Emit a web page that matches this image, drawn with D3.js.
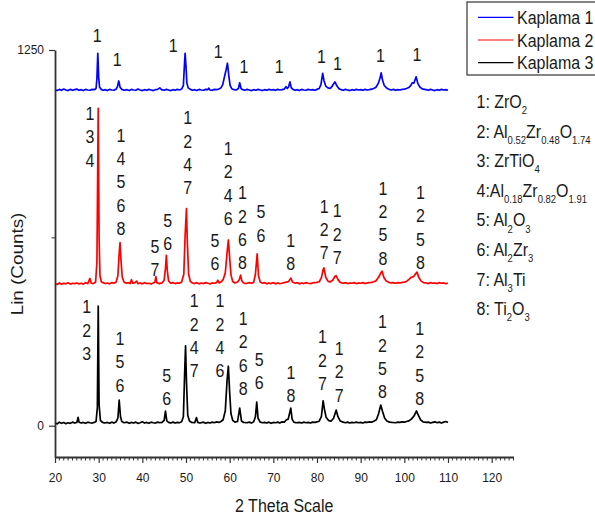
<!DOCTYPE html>
<html>
<head>
<meta charset="utf-8">
<script src="https://cdn.jsdelivr.net/npm/d3@7"></script>
<style>
  body { margin: 0; background: #fff; }
  svg { display: block; }
</style>
</head>
<body>
<div id="chart"></div>
<script>
// series names / colours / vertical offsets used by the stacked plot
const seriesNames = ["Kaplama 1", "Kaplama 2", "Kaplama 3"];
const seriesColors = ["#0000ff", "#ff0000", "#000000"];
const seriesOffsets = [1110, 464, 0];

// [2theta, counts]
const kaplama1 = [[20,8],[20.5,5],[21,9],[21.5,6],[22,10],[22.5,7],[23,5],[23.5,9],[24,6],[24.5,8],[25,10],[25.5,6],[26,8],[26.5,5],[27,9],[27.5,7],[28,6],[28.5,9],[29,8],[29.4,12],[29.6,45],[29.8,129],[30,50],[30.2,16],[30.6,9],[31,6],[31.5,8],[32,5],[32.5,9],[33,7],[33.5,6],[34,10],[34.3,18],[34.6,37],[34.9,16],[35.3,9],[35.8,6],[36.5,8],[37,5],[37.5,9],[38,7],[38.5,6],[39,10],[39.5,7],[40,5],[40.5,8],[41,6],[41.5,9],[42,7],[42.5,5],[43,8],[43.5,9],[44,14],[44.4,8],[45,6],[45.5,9],[46,7],[46.5,5],[47,8],[47.5,6],[48,9],[48.5,7],[49,10],[49.4,22],[49.6,80],[49.8,129],[50,85],[50.2,30],[50.5,14],[51,9],[51.5,6],[52,8],[52.5,5],[53,9],[53.5,7],[54,6],[54.5,9],[55,8],[55.2,13],[55.5,7],[56,6],[56.5,9],[57,8],[57.5,10],[58,14],[58.4,24],[58.8,50],[59.2,75],[59.5,96],[59.8,55],[60.1,22],[60.5,11],[61,8],[61.5,7],[62,12],[62.3,31],[62.6,12],[63,8],[63.5,6],[64,9],[64.5,7],[65,5],[65.5,8],[66,6],[66.5,9],[67,7],[67.5,5],[68,8],[68.5,6],[69,9],[69.5,7],[70,8],[70.5,6],[71,9],[71.5,7],[72,8],[72.5,10],[72.9,18],[73.2,12],[73.5,18],[73.8,34],[74.1,15],[74.5,9],[75,6],[75.5,8],[76,5],[76.5,9],[77,7],[77.5,6],[78,9],[78.5,7],[79,8],[79.5,6],[80,9],[80.5,12],[80.9,25],[81.3,62],[81.6,38],[82,20],[82.5,14],[83,12],[83.5,20],[84.1,34],[84.5,22],[85,12],[85.5,8],[86,6],[86.5,9],[87,7],[87.5,5],[88,8],[88.5,6],[89,9],[89.5,7],[90,8],[90.5,6],[91,9],[91.5,7],[92,8],[92.5,10],[93,12],[93.5,16],[94,28],[94.4,45],[94.7,64],[95,40],[95.4,22],[96,13],[96.5,9],[97,7],[97.5,9],[98,6],[98.5,8],[99,7],[99.5,9],[100,10],[100.5,12],[101,15],[101.5,22],[101.8,31],[102.2,30],[102.7,51],[103.1,28],[103.6,16],[104.2,10],[105,8],[105.5,6],[106,9],[106.5,7],[107,5],[107.5,8],[108,6],[108.5,9],[109,7],[109.5,8],[110,6]];

const kaplama2 = [[20,9],[20.5,6],[21,11],[21.5,7],[22,10],[22.5,8],[23,12],[23.5,7],[24,10],[24.5,9],[25,11],[25.5,8],[26,10],[26.5,7],[27,12],[27.5,9],[28,26],[28.3,10],[28.8,9],[29.3,14],[29.6,80],[29.9,592],[30.1,160],[30.3,35],[30.6,15],[31,12],[31.5,9],[32,11],[32.5,8],[33,12],[33.5,10],[34,14],[34.4,35],[34.7,110],[34.9,145],[35.1,90],[35.4,30],[35.8,14],[36.3,10],[36.8,12],[37.2,9],[37.5,22],[37.8,10],[38.3,12],[38.7,17],[39,9],[39.5,11],[40,8],[40.5,12],[41,9],[41.5,10],[42,8],[42.5,11],[42.9,14],[43.1,32],[43.3,12],[43.8,9],[44.5,11],[45,20],[45.3,60],[45.5,103],[45.7,55],[46,18],[46.5,10],[47,12],[47.5,9],[48,11],[48.5,10],[49,14],[49.5,40],[49.8,170],[50.1,258],[50.3,150],[50.6,40],[51,16],[51.5,11],[52,9],[52.5,12],[53,8],[53.5,11],[54,9],[54.5,12],[55,10],[55.5,8],[56,11],[56.5,10],[57,12],[57.3,20],[57.6,11],[58,14],[58.5,22],[59,45],[59.4,110],[59.7,154],[60,95],[60.3,38],[60.7,16],[61.2,11],[61.8,14],[62.2,22],[62.5,37],[62.8,18],[63.2,11],[63.8,9],[64.5,12],[65,10],[65.5,13],[65.9,40],[66.3,108],[66.6,35],[67,14],[67.5,10],[68,12],[68.5,8],[69,11],[69.5,9],[70,12],[70.5,8],[71,11],[71.5,9],[72,10],[72.5,12],[73,14],[73.5,16],[74,27],[74.4,14],[75,10],[75.5,12],[76,8],[76.5,11],[77,9],[77.5,12],[78,10],[78.5,9],[79,11],[79.5,12],[80,13],[80.5,15],[81,28],[81.4,55],[81.6,61],[82,30],[82.5,17],[83,14],[83.6,20],[84.1,33],[84.4,35],[84.8,22],[85.3,13],[86,10],[86.5,12],[87,9],[87.5,11],[88,10],[88.5,12],[89,9],[89.5,11],[90,10],[90.5,12],[91,9],[91.5,11],[92,12],[92.5,13],[93,15],[93.5,18],[94.1,30],[94.6,44],[94.9,50],[95.3,30],[95.8,18],[96.4,13],[97,11],[97.5,12],[98,10],[98.5,12],[99,11],[99.5,13],[100,14],[100.5,16],[101,22],[101.6,30],[102.1,32],[102.5,40],[102.9,47],[103.3,30],[103.8,18],[104.4,12],[105,11],[105.5,9],[106,12],[106.5,10],[107,11],[107.5,9],[108,12],[108.5,10],[109,11],[109.5,9],[110,10]];

const kaplama3 = [[20,10],[20.5,6],[21,12],[21.5,8],[22,11],[22.5,7],[23,10],[23.5,8],[24,12],[24.5,9],[25,11],[25.3,28],[25.5,12],[26,9],[26.5,11],[27,8],[27.5,12],[28,10],[28.5,9],[29,11],[29.4,14],[29.7,60],[29.9,398],[30.1,70],[30.4,18],[30.8,12],[31.3,9],[32,11],[32.5,8],[33,12],[33.5,9],[34,13],[34.4,25],[34.7,85],[35,30],[35.3,14],[35.8,10],[36.5,12],[37,8],[37.5,11],[38,9],[38.5,12],[39,8],[39.5,10],[40,13],[40.5,9],[41,11],[41.5,8],[42,12],[42.5,10],[43,9],[43.5,12],[44,10],[44.5,11],[45,18],[45.3,49],[45.6,16],[46,11],[46.5,9],[47,12],[47.5,9],[48,11],[48.5,10],[49,13],[49.4,30],[49.7,180],[49.9,266],[50.1,150],[50.4,35],[50.8,16],[51.3,11],[52,10],[52.4,27],[52.7,11],[53.2,9],[54,12],[54.5,8],[55,11],[55.5,9],[56,12],[56.5,10],[57,13],[57.5,11],[58,14],[58.5,20],[59,50],[59.4,150],[59.7,198],[60,110],[60.3,40],[60.7,18],[61.2,12],[61.8,14],[62.3,59],[62.7,16],[63.2,11],[64,10],[64.5,12],[65,9],[65.5,13],[65.9,30],[66.2,79],[66.5,25],[67,12],[67.5,10],[68,11],[68.5,9],[69,12],[69.5,8],[70,11],[70.5,10],[71,12],[71.5,9],[72,13],[72.5,12],[73,20],[73.4,22],[73.7,40],[74,59],[74.3,22],[74.7,12],[75.2,10],[76,11],[76.5,9],[77,12],[77.5,10],[78,11],[78.5,9],[79,12],[79.5,11],[80,13],[80.5,15],[81,30],[81.4,83],[81.7,55],[82.1,28],[82.6,18],[83.2,15],[83.8,25],[84.4,52],[84.8,30],[85.3,16],[86,12],[86.5,10],[87,12],[87.5,9],[88,11],[88.5,10],[89,12],[89.5,10],[90,11],[90.5,9],[91,12],[91.5,11],[92,13],[92.5,12],[93,15],[93.6,20],[94.1,40],[94.6,69],[95,48],[95.5,25],[96,16],[96.6,12],[97.2,11],[98,10],[98.5,12],[99,11],[99.5,13],[100,12],[100.5,14],[101,16],[101.6,22],[102.2,32],[102.8,49],[103.2,35],[103.7,20],[104.3,13],[105,11],[105.5,12],[106,9],[106.5,11],[107,13],[107.5,10],[108,12],[108.5,9],[109,12],[109.5,14],[110,11]];

// peak labels: [2theta, stacked counts of first digit, digits top to bottom]
const notes1 = [[29.68,1277,"1"],[34.26,1198,"1"],[47.07,1244,"1"],[57.37,1222,"1"],[63.25,1172,"1"],[71.33,1172,"1"],[81.03,1206,"1"],[84.69,1183,"1"],[94.53,1211,"1"],[102.9,1213,"1"]];
const notes2 = [[28.01,1017,"134"],[35.1,945,"14568"],[42.88,574,"57"],[45.79,662,"56"],[50.37,1003,"1247"],[56.61,596,"56"],[59.66,901,"1246"],[62.95,753,"1268"],[67.14,690,"56"],[74.0,596,"18"],[81.62,709,"127"],[84.6,693,"127"],[95.13,768,"1258"],[103.68,754,"1258"]];
const notes3 = [[27.25,374,"123"],[34.87,268,"156"],[45.56,146,"56"],[51.88,394,"1247"],[57.76,394,"1246"],[63.09,335,"1268"],[66.75,199,"56"],[74.05,155,"18"],[81.26,274,"127"],[85.06,235,"127"],[94.99,324,"1258"],[103.52,302,"1258"]];

// phase key, [text, isSubscript]
const phaseKeys = [
  [["1: ZrO",0],["2",1]],
  [["2: Al",0],["0.52",1],["Zr",0],["0.48",1],["O",0],["1.74",1]],
  [["3: ZrTiO",0],["4",1]],
  [["4:Al",0],["0.18",1],["Zr",0],["0.82",1],["O",0],["1.91",1]],
  [["5: Al",0],["2",1],["O",0],["3",1]],
  [["6: Al",0],["2",1],["Zr",0],["3",1]],
  [["7: Al",0],["3",1],["Ti",0]],
  [["8: Ti",0],["2",1],["O",0],["3",1]]
];

const xTicks = [20, 30, 40, 50, 60, 70, 80, 90, 100, 110, 120];
const yTicks = [0, 1250];
const xLabel = "2 Theta Scale";
const yLabel = "Lin (Counts)";

const width = 595, height = 518;
const font = "'Liberation Sans', Arial, sans-serif";
const textColor = "#1a1a1a";
const axisColor = "#333";
const stretch = 1.12;  // text in the source is a bit taller than wide

const svg = d3.select("#chart").append("svg")
  .attr("width", width)
  .attr("height", height)
  .attr("viewBox", `0 0 ${width} ${height}`);

const x = d3.scaleLinear().domain([20, 125]).range([55, 513.5]);
const y = d3.scaleLinear().domain([-104, 1250]).range([457, 50]);

// stretched text helper
function label(parent, px, py, str, size, anchor) {
  return parent.append("text")
    .attr("transform", `translate(${px},${py}) scale(1,${stretch})`)
    .attr("text-anchor", anchor || "start")
    .style("font-family", font)
    .style("font-size", size + "px")
    .style("fill", textColor)
    .text(str);
}

// curves
const allSeries = [kaplama1, kaplama2, kaplama3];
const line = d3.line()
  .x(d => x(d[0]))
  .y(d => y(d[1]));

allSeries.forEach((s, i) => {
  const off = seriesOffsets[i];
  svg.append("path")
    .datum(s.map(d => [d[0], d[1] + off]))
    .attr("fill", "none")
    .attr("stroke", seriesColors[i])
    .attr("stroke-width", 1.7)
    .attr("stroke-linejoin", "round")
    .attr("d", line);
});

// peak labels
const lineStep = 23.3;
[notes1, notes2, notes3].forEach(notes => {
  notes.forEach(n => {
    n[2].split("").forEach((ch, k) => {
      label(svg, x(n[0]), y(n[1]) + k * lineStep, ch, 16, "middle");
    });
  });
});

// x axis
const xAxis = svg.append("g")
  .attr("transform", `translate(0,${y(-104)})`)
  .call(d3.axisBottom(x).tickValues(xTicks).tickSize(6).tickSizeOuter(0).tickPadding(10).tickFormat(d3.format("d")));

// minor x ticks every degree
svg.append("g")
  .selectAll("line")
  .data(d3.range(21, 126, 1).filter(v => v % 10 !== 0))
  .enter()
  .append("line")
  .attr("x1", d => x(d)).attr("x2", d => x(d))
  .attr("y1", y(-104)).attr("y2", y(-104) + 3.5)
  .attr("stroke", axisColor)
  .attr("stroke-width", 1);

// y axis
const yAxis = svg.append("g")
  .attr("transform", `translate(${x(20)},0)`)
  .call(d3.axisLeft(y).tickValues(yTicks).tickSize(6).tickSizeOuter(0).tickPadding(5).tickFormat(d3.format("d")));

svg.append("line")
  .attr("x1", x(20) - 3.5).attr("x2", x(20))
  .attr("y1", y(625)).attr("y2", y(625))
  .attr("stroke", axisColor);

[xAxis, yAxis].forEach(a => {
  a.select(".domain").attr("stroke", axisColor).attr("stroke-width", 1.8);
  a.selectAll(".tick line").attr("stroke", axisColor).attr("stroke-width", 1.2);
  a.selectAll("text")
    .style("font-family", font)
    .style("font-size", "12px")
    .style("fill", textColor);
});

// axis titles
label(svg, (x(20) + x(125)) / 2, 511.5, xLabel, 16, "middle");

svg.append("text")
  .attr("transform", `translate(23,264) rotate(-90) scale(1.18,1)`)
  .attr("text-anchor", "middle")
  .style("font-family", font)
  .style("font-size", "16px")
  .style("fill", textColor)
  .text(yLabel);

// legend
const legend = svg.append("g");
legend.append("rect")
  .attr("x", 467).attr("y", 2)
  .attr("width", 160).attr("height", 73)
  .attr("fill", "#fff")
  .attr("stroke", axisColor)
  .attr("stroke-width", 1.2);

seriesNames.forEach((name, i) => {
  const ly = 17.3 + i * 22.7;
  legend.append("line")
    .attr("x1", 478).attr("x2", 513.5)
    .attr("y1", ly).attr("y2", ly)
    .attr("stroke", seriesColors[i])
    .attr("stroke-width", 1.2);
  label(legend, 517, ly + 6.5, name, 16);
});

// phase key with subscripts
phaseKeys.forEach((row, i) => {
  const t = svg.append("text")
    .attr("transform", `translate(476.5,${108 + i * 29.6}) scale(1,${stretch})`)
    .style("font-family", font)
    .style("fill", textColor);
  let lowered = false;
  row.forEach(seg => {
    const sub = seg[1] === 1;
    const ts = t.append("tspan")
      .style("font-size", sub ? "9.5px" : "16px")
      .text(seg[0]);
    if (sub && !lowered) { ts.attr("dy", 5.5); lowered = true; }
    else if (!sub && lowered) { ts.attr("dy", -5.5); lowered = false; }
  });
});
</script>
</body>
</html>
